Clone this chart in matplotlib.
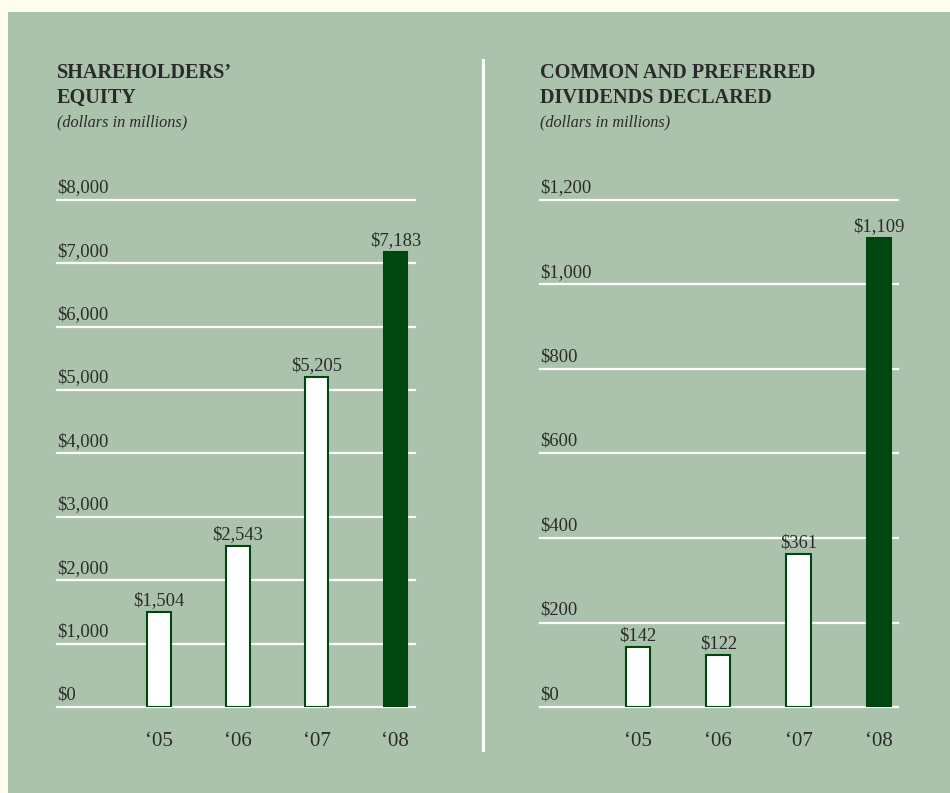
import matplotlib.pyplot as plt
from matplotlib.patches import Rectangle
from matplotlib.lines import Line2D
import matplotlib.transforms as mtransforms

plt.rcParams['font.family'] = ['Liberation Serif', 'DejaVu Serif']

# data
years = ["‘05", "‘06", "‘07", "‘08"]
equity = [1504, 2543, 5205, 7183]
equity_ticks = [0, 1000, 2000, 3000, 4000, 5000, 6000, 7000, 8000]
dividends = [142, 122, 361, 1109]
div_ticks = [0, 200, 400, 600, 800, 1000, 1200]

CREAM = '#fffdf0'
PANEL = '#abc3ad'
DARK = '#00470f'
TEXT = '#2a2a2a'

fig = plt.figure(figsize=(9.5, 7.93), dpi=100)
fig.patch.set_facecolor(CREAM)
fig.patches.append(Rectangle((8 / 950, 0), 1, 1 - 12 / 793, transform=fig.transFigure,
                             facecolor=PANEL, edgecolor='none', zorder=-10))
# white divider between the two charts
fig.lines.append(Line2D([483 / 950, 483 / 950], [1 - 750 / 793, 1 - 60 / 793],
                        transform=fig.transFigure, color='white', lw=2.2, zorder=-5))


def draw_chart(left_px, title1, title2, values, ticks, ymax, xlim):
    ax = fig.add_axes([left_px / 950, 1 - 707 / 793, 358 / 950, 507 / 793])
    ax.set_facecolor('none')
    for s in ax.spines.values():
        s.set_visible(False)
    ax.set_xlim(*xlim)
    ax.set_ylim(0, ymax)

    # gridlines incl. baseline
    for t in ticks:
        ax.axhline(t, color='white', lw=1.6, zorder=1, clip_on=False)
    trans = mtransforms.blended_transform_factory(ax.transAxes, ax.transData)
    for t in ticks:
        ax.annotate(f'${t:,}', xy=(0, t), xycoords=trans, xytext=(0, 5.5),
                    textcoords='offset points', ha='left', va='baseline',
                    fontsize=13.3, color=TEXT)

    x = range(len(values))
    colors = ['white'] * (len(values) - 1) + [DARK]
    bars = ax.bar(x, values, width=0.3, color=colors, edgecolor=DARK, linewidth=1.5, zorder=2)
    for b, v in zip(bars, values):
        ax.annotate(f'${v:,}', xy=(b.get_x() + b.get_width() / 2, v), xytext=(0, 5),
                    textcoords='offset points', ha='center', va='baseline',
                    fontsize=13.3, color=TEXT)

    ax.set_xticks(list(x))
    ax.set_xticklabels(years, fontsize=15, color=TEXT)
    for lbl in ax.get_xticklabels():
        lbl.set_va('baseline')
    ax.tick_params(axis='x', length=0, pad=28)
    ax.set_yticks([])

    # titles
    ax.text(0, 1 + 122 / 507, title1, transform=ax.transAxes, fontsize=14.6,
            fontweight='bold', color=TEXT, ha='left', va='baseline')
    ax.text(0, 1 + 97 / 507, title2, transform=ax.transAxes, fontsize=14.6,
            fontweight='bold', color=TEXT, ha='left', va='baseline')
    ax.text(0, 1 + 74 / 507, '(dollars in millions)', transform=ax.transAxes, fontsize=11.7,
            style='italic', color=TEXT, ha='left', va='baseline')
    return ax


draw_chart(57, 'SHAREHOLDERS’', 'EQUITY', equity, equity_ticks, 8000, (-1.30, 3.25))
draw_chart(540, 'COMMON AND PREFERRED', 'DIVIDENDS DECLARED', dividends, div_ticks, 1200, (-1.22, 3.24))

fig.savefig('out.png', dpi=100, facecolor=fig.get_facecolor())
